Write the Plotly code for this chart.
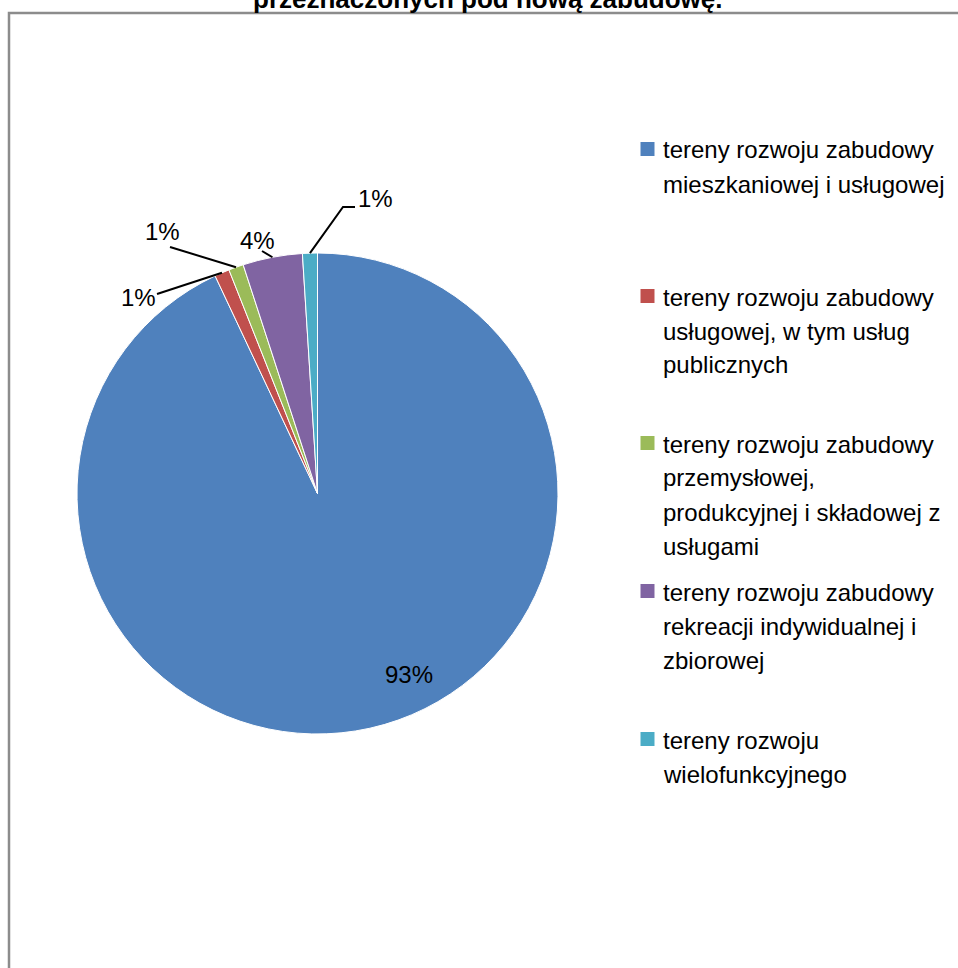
import math
import plotly.graph_objects as go

W, H = 958, 968

# Data
categories = [
    "tereny rozwoju zabudowy mieszkaniowej i usługowej",
    "tereny rozwoju zabudowy usługowej, w tym usług publicznych",
    "tereny rozwoju zabudowy przemysłowej, produkcyjnej i składowej z usługami",
    "tereny rozwoju zabudowy rekreacji indywidualnej i zbiorowej",
    "tereny rozwoju wielofunkcyjnego",
]
legend_lines = [
    ["tereny rozwoju zabudowy", "mieszkaniowej i usługowej"],
    ["tereny rozwoju zabudowy", "usługowej, w tym usług", "publicznych"],
    ["tereny rozwoju zabudowy", "przemysłowej,", "produkcyjnej i składowej z", "usługami"],
    ["tereny rozwoju zabudowy", "rekreacji indywidualnej i", "zbiorowej"],
    ["tereny rozwoju", "wielofunkcyjnego"],
]
shares = [93, 1, 1, 4, 1]
colors = ["#4F81BD", "#C0504D", "#9BBB59", "#8064A2", "#4BACC6"]
title_text = "przeznaczonych pod nową zabudowę."

# Geometry (pixels)
CX, CY, R = 317.5, 493.5, 240.5


def px(x):
    return x / W


def py(y):
    return 1 - y / H


fig = go.Figure(
    go.Pie(
        labels=categories,
        values=shares,
        sort=False,
        direction="clockwise",
        rotation=0,
        marker=dict(colors=colors, line=dict(color="white", width=1)),
        textinfo="none",
        hoverinfo="label+percent",
        showlegend=False,
        domain=dict(x=[px(CX - R), px(CX + R)], y=[py(CY + R), py(CY - R)]),
    )
)

total = sum(shares)
pct = [round(v / total * 100) for v in shares]

# mid-angle of each slice (degrees clockwise from 12 o'clock)
mids = []
acc = 0.0
for v in shares:
    a0 = acc / total * 360
    acc += v
    a1 = acc / total * 360
    mids.append((a0 + a1) / 2)


def rim(angle, k=1.0):
    t = math.radians(angle)
    return CX + k * R * math.sin(t), CY - k * R * math.cos(t)


shapes = []
annotations = []

# frame around the chart area
shapes.append(dict(type="rect", xref="paper", yref="paper",
                   x0=px(9), x1=px(W + 20), y0=py(H + 20), y1=py(13),
                   line=dict(color="#8C8C8C", width=2.5), fillcolor="rgba(0,0,0,0)"))

# title (last line)
annotations.append(dict(text=title_text, xref="paper", yref="paper",
                        x=px(488), y=py(-1), xanchor="center", yanchor="middle",
                        showarrow=False,
                        font=dict(family="Liberation Sans, Arial", size=26,
                                  color="black", weight="bold")))

label_font = dict(family="Liberation Sans, Arial", size=24, color="black")

# big slice label inside
annotations.append(dict(text=f"{pct[0]}%", xref="paper", yref="paper",
                        x=px(408.5), y=py(674.5), showarrow=False,
                        xanchor="center", yanchor="middle", font=label_font))

# outside labels with leader lines to the slice rims
label_pos = {1: (138.5, 297.5), 2: (162, 232), 3: (257.5, 240), 4: (375, 198)}
leader_start = {1: [(157, 294)], 2: [(170, 247)], 3: [(262, 251)],
                4: [(355, 207), (343, 207)]}
for i, (lx, ly) in label_pos.items():
    annotations.append(dict(text=f"{pct[i]}%", xref="paper", yref="paper",
                            x=px(lx), y=py(ly), showarrow=False,
                            xanchor="center", yanchor="middle", font=label_font))
    pts = leader_start[i] + [rim(mids[i])]
    path = "M " + " L ".join(f"{px(x)},{py(y)}" for x, y in pts)
    shapes.append(dict(type="path", xref="paper", yref="paper", path=path,
                       line=dict(color="black", width=2)))

# legend
legend_font = dict(family="Liberation Sans, Arial", size=24, color="black")
item_top = [150, 297, 444, 592, 740]
line_gap = 34
for i, lines in enumerate(legend_lines):
    y0 = item_top[i]
    shapes.append(dict(type="rect", xref="paper", yref="paper",
                       x0=px(640.5), x1=px(654.5), y0=py(y0 + 6), y1=py(y0 - 8),
                       fillcolor=colors[i], line=dict(width=0)))
    for j, t in enumerate(lines):
        annotations.append(dict(text=t, xref="paper", yref="paper",
                                x=px(661), y=py(y0 + j * line_gap),
                                xanchor="left", yanchor="middle", showarrow=False,
                                font=legend_font))

fig.update_layout(
    width=W, height=H,
    margin=dict(l=0, r=0, t=0, b=0),
    paper_bgcolor="white", plot_bgcolor="white",
    shapes=shapes, annotations=annotations,
)

fig.write_html("out.html")
